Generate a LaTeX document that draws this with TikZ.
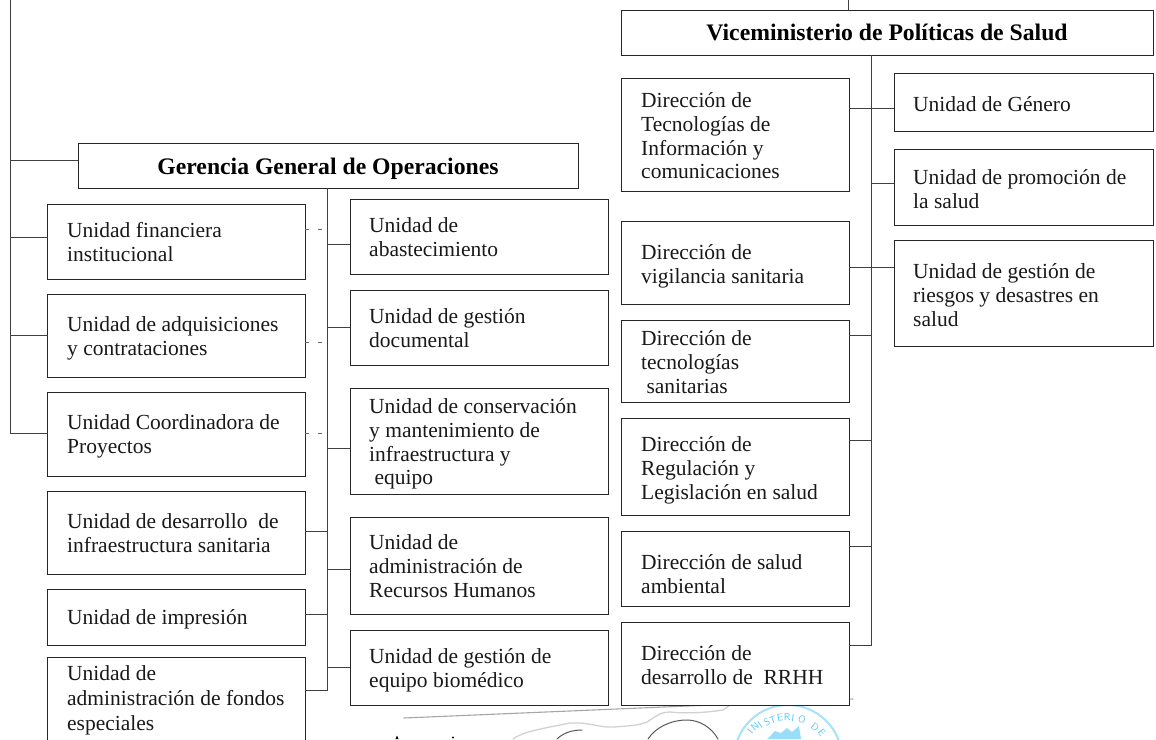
\documentclass[tikz,border=0pt]{standalone}
\usepackage{fontspec}
\setmainfont{Liberation Serif}
\tikzset{
  bx/.style={draw=black!85,line width=1pt,fill=white,inner sep=0pt,outer sep=0pt},
  lbl/.style={anchor=north west,inner sep=0pt,yshift=-4.5pt,align=left,font=\fontsize{21.5}{23.7}\selectfont,text=black!90},
  ttl/.style={inner sep=0pt,font=\bfseries\fontsize{23.7}{28}\selectfont},
  con/.style={draw=black!75,line width=1pt},
  dsh/.style={draw=black!60,line width=0.7pt,dash pattern=on 3.5pt off 9.5pt},
  sig/.style={draw=black!35,line width=1.1pt,line cap=round},
  sigl/.style={draw=black!18,line width=1.3pt,line cap=round},
  sigd/.style={draw=black!65,line width=1pt,line cap=round},
  stamp/.style={draw=cyan!35,line width=2pt},
  stl/.style={inner sep=0pt,text=cyan!65,font=\sffamily\fontsize{10}{10}\selectfont},
}
\newcommand{\bxn}[5]{\node[bx,anchor=north west,minimum width=#4pt-#2pt,minimum height=#5pt-#3pt] (#1) at (#2,#3) {};}
\begin{document}
\begin{tikzpicture}[x=1pt,y=-1pt]
\useasboundingbox (0,0) rectangle (1156,739);
\fill[white] (0,0) rectangle (1156,739);
\clip (0,0) rectangle (1156,739);
% signature and stamp
\draw[sig] (404,718) -- (853,699);
\draw[sigl] (513,739) .. controls (522,732) and (540,729) .. (570,723) .. controls (590,722) and (600,728) .. (613,727) .. controls (630,726) and (640,725) .. (647,722) .. controls (655,717) and (660,712) .. (670,712) .. controls (690,714) and (710,712) .. (723,710) -- (730,705);
\draw[sigd] (557,739) .. controls (563,733) and (572,730) .. (582,730);
\draw[sigd] (648,739) .. controls (655,728) and (670,720) .. (687,720) .. controls (700,720) and (712,728) .. (718,739);
\draw[stamp] (788,759) circle (54);
\foreach \c/\x/\y/\r in {I/750/731/52,N/755/727/42,I/760/725/35,S/767/722/28,T/773/720/20,E/780/718/10,R/787/717/0,I/793/718/-7,O/802/719/-19,D/815/727/-40,E/822/733/-52}
  \node[stl,rotate=\r] at (\x,\y) {\c};
\fill[cyan!40] (767,739) -- (775,731) -- (781,733) -- (787,728) -- (792,732) -- (799,726) -- (801,739) -- cycle;
\fill[black] (395.5,739) -- (397,735.5) -- (398.5,739) -- cycle;
\fill[black] (453,737.5) circle (1.2);
% connector ends
\coordinate (topl) at (10,0);
\coordinate (topr) at (848,0);
\coordinate (tl1) at (10,237);
\coordinate (tl2) at (10,335);
\coordinate (tl3) at (10,433);
\coordinate (tg) at (10,160.5);
\coordinate (ct) at (327,188);
\coordinate (ce) at (327,690.5);
\coordinate (rt) at (871.5,55);
\coordinate (re) at (871.5,645);
% boxes
\bxn{vm}{621}{10}{1153}{55}
\bxn{d1}{621}{78}{849}{191}
\bxn{d2}{621}{221}{849}{304}
\bxn{d3}{621}{320}{849}{402}
\bxn{d4}{621}{418}{849}{515}
\bxn{d5}{621}{531}{849}{606}
\bxn{d6}{621}{622}{849}{705}
\bxn{u1}{894}{73}{1153}{131}
\bxn{u2}{894}{149}{1153}{225}
\bxn{u3}{894}{240}{1153}{346}
\bxn{gg}{78}{143}{578}{188}
\bxn{l1}{47.5}{204}{305}{279}
\bxn{l2}{47.5}{294}{305}{377}
\bxn{l3}{47.5}{392}{305}{476}
\bxn{l4}{47.5}{491}{305}{574}
\bxn{l5}{47.5}{589}{305}{645}
\bxn{l6}{47.5}{657}{305}{760}
\bxn{r1}{350}{199}{608}{274}
\bxn{r2}{350}{290}{608}{365}
\bxn{r3}{350}{388}{608}{494}
\bxn{r4}{350}{517}{608}{614}
\bxn{r5}{350}{630}{608}{705}
% titles
\node[ttl,yshift=-3pt] at (gg.center) {Gerencia General de Operaciones};
\node[ttl] at (vm.center) {Viceministerio de Políticas de Salud};
% labels
\node[lbl] at (67,218) {Unidad financiera\\institucional};
\node[lbl] at (67,312) {Unidad de adquisiciones\\y contrataciones};
\node[lbl] at (67,410) {Unidad Coordinadora de\\Proyectos};
\node[lbl] at (67,509) {Unidad de desarrollo~ de\\infraestructura sanitaria};
\node[lbl] at (67,605) {Unidad de impresión};
\node[lbl] at (67,661) {Unidad de\\[1.3pt]administración de fondos\\[1.3pt]especiales};
\node[lbl] at (369,213) {Unidad de\\abastecimiento};
\node[lbl] at (369,304) {Unidad de gestión\\documental};
\node[lbl] at (369,394) {Unidad de conservación\\y mantenimiento de\\infraestructura y\\~equipo};
\node[lbl] at (369,530) {Unidad de\\administración de\\Recursos Humanos};
\node[lbl] at (369,644) {Unidad de gestión de\\equipo biomédico};
\node[lbl] at (641,88) {Dirección de\\Tecnologías de\\Información y\\comunicaciones};
\node[lbl] at (641,240) {Dirección de\\vigilancia sanitaria};
\node[lbl] at (641,326) {Dirección de\\tecnologías\\~sanitarias};
\node[lbl] at (641,432) {Dirección de\\Regulación y\\Legislación en salud};
\node[lbl] at (641,550) {Dirección de salud\\ambiental};
\node[lbl] at (641,641) {Dirección de\\desarrollo de~ RRHH};
\node[lbl] at (913,92) {Unidad de Género};
\node[lbl] at (913,165) {Unidad de promoción de\\la salud};
\node[lbl] at (913,259) {Unidad de gestión de\\riesgos y desastres en\\salud};
% left trunk
\draw[con] (topl) -- (tl3) -- (tl3-|l3.west);
\draw[con] (tg) -- (tg-|gg.west);
\draw[con] (tl1) -- (tl1-|l1.west);
\draw[con] (tl2) -- (tl2-|l2.west);
\draw[con] (topr) -- (topr|-vm.north);
% centre trunk
\draw[con] (ct) -- (ce) -- (ce-|l6.east);
\foreach \n/\y in {r1/244,r2/327,r3/448.5,r4/569,r5/667.5} \draw[con] (327,\y) -- (\n.west|-0,\y);
\foreach \n/\y in {l4/531.5,l5/614.5} \draw[con] (\n.east|-0,\y) -- (327,\y);
\foreach \n/\y in {l1/229,l2/342,l3/433} \draw[dsh] (\n.east|-0,\y) -- (327,\y);
% right trunk
\draw[con] (rt) -- (re) -- (re-|d6.east);
\foreach \n/\y in {d3/335,d4/440.5,d5/546.5} \draw[con] (\n.east|-0,\y) -- (871.5,\y);
\draw[con] (u2.west|-0,183) -- (871.5,183);
\coordinate (a1) at (849,108); \coordinate (a2) at (849,267);
\draw[con] (a1) -- (a1-|u1.west);
\draw[con] (a2) -- (a2-|u3.west);
\end{tikzpicture}
\end{document}
